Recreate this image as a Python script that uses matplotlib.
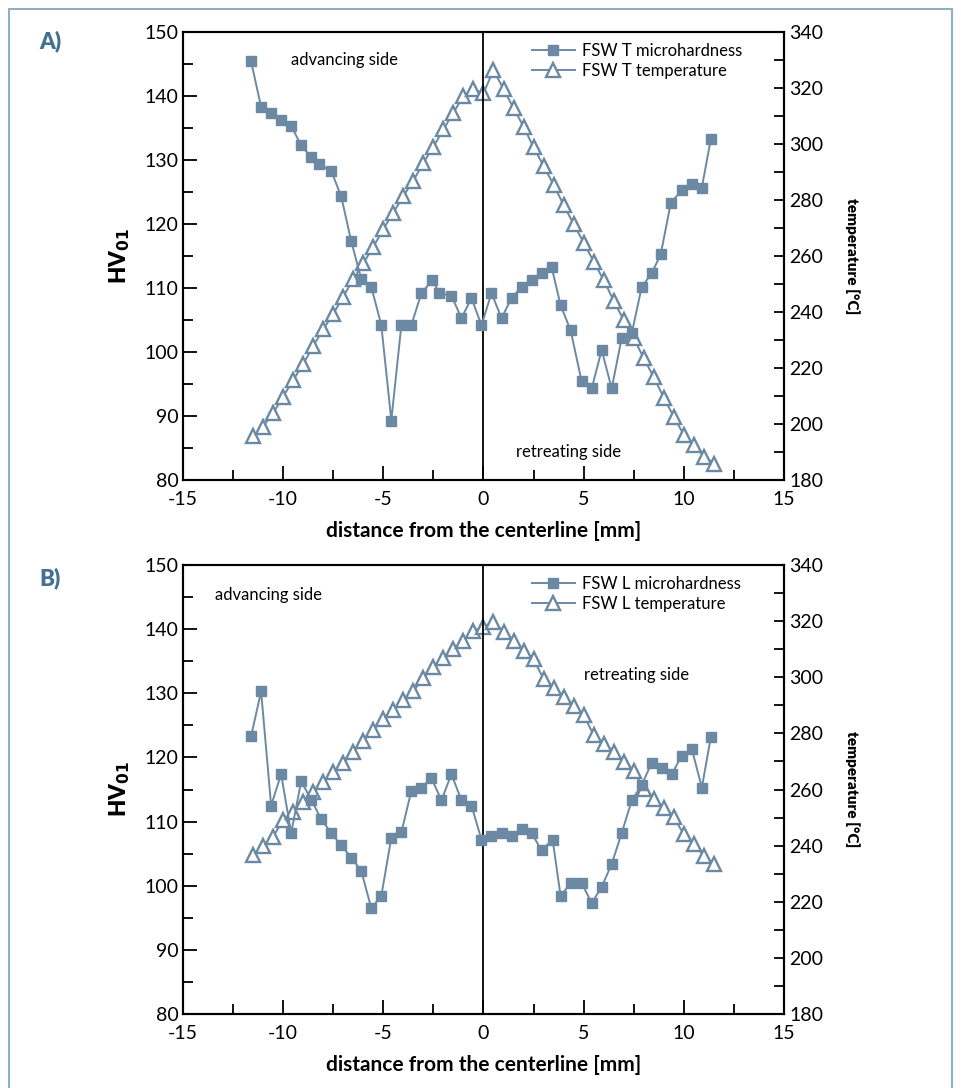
import matplotlib
matplotlib.use('Agg')
import matplotlib.pyplot as plt
from matplotlib.ticker import MultipleLocator
from matplotlib.patches import Rectangle

plt.rcParams['axes.unicode_minus'] = False
plt.rcParams['font.family'] = ['Lato', 'DejaVu Sans']

# data
# A) transverse (T)
a_x_hv = [-11.6, -11.1, -10.6, -10.1, -9.6, -9.1, -8.6, -8.2, -7.6, -7.1,
          -6.6, -6.1, -5.6, -5.1, -4.6, -4.1, -3.6, -3.1, -2.55, -2.2,
          -1.6, -1.1, -0.6, -0.1, 0.4, 0.9, 1.4, 1.9, 2.4, 2.9,
          3.4, 3.85, 4.35, 4.9, 5.4, 5.9, 6.4, 6.9, 7.4, 7.9,
          8.4, 8.85, 9.35, 9.9, 10.4, 10.9, 11.35]
a_hv = [145.4, 138.3, 137.4, 136.3, 135.3, 132.3, 130.4, 129.3, 128.3, 124.3,
        117.3, 111.4, 110.2, 104.2, 89.3, 104.2, 104.2, 109.2, 111.2, 109.2,
        108.8, 105.3, 108.4, 104.2, 109.2, 105.3, 108.4, 110.2, 111.2, 112.3,
        113.3, 107.3, 103.4, 95.4, 94.3, 100.3, 94.3, 102.2, 102.9, 110.2,
        112.3, 115.3, 123.3, 125.3, 126.3, 125.7, 133.3]
x_temp = [-11.5, -11.0, -10.5, -10.0, -9.5, -9.0, -8.5, -8.0, -7.5, -7.0,
          -6.5, -6.0, -5.5, -5.0, -4.5, -4.0, -3.5, -3.0, -2.5, -2.0,
          -1.5, -1.0, -0.5, 0.0, 0.5, 1.0, 1.5, 2.0, 2.5, 3.0,
          3.5, 4.0, 4.5, 5.0, 5.5, 6.0, 6.5, 7.0, 7.5, 8.0,
          8.5, 9.0, 9.5, 10.0, 10.5, 11.0, 11.5]
a_temp = [195.7, 199.1, 203.9, 209.8, 215.7, 221.3, 227.9, 233.8, 239.3, 245.5,
          251.7, 257.4, 263.3, 269.6, 275.5, 281.4, 286.9, 293.3, 299.0, 305.2,
          311.2, 317.1, 319.5, 318.1, 326.4, 319.6, 312.8, 306.2, 298.8, 292.2,
          285.4, 278.2, 271.4, 264.8, 258.0, 251.4, 244.0, 237.1, 230.6, 223.5,
          216.7, 209.4, 202.6, 196.1, 192.5, 188.4, 185.8]

# B) longitudinal (L)
b_x_hv = [-11.6, -11.1, -10.6, -10.1, -9.6, -9.1, -8.6, -8.1, -7.6, -7.1,
          -6.6, -6.1, -5.6, -5.1, -4.6, -4.1, -3.6, -3.1, -2.6, -2.1,
          -1.6, -1.1, -0.6, -0.1, 0.4, 0.9, 1.4, 1.9, 2.4, 2.9,
          3.45, 3.85, 4.35, 4.9, 5.4, 5.9, 6.4, 6.9, 7.4, 7.9,
          8.4, 8.9, 9.4, 9.9, 10.4, 10.9, 11.35]
b_hv = [123.3, 130.3, 112.5, 117.4, 108.2, 116.3, 113.4, 110.4, 108.2, 106.3,
        104.4, 102.3, 96.5, 98.4, 107.5, 108.3, 114.8, 115.3, 116.8, 113.3,
        117.4, 113.3, 112.5, 107.2, 107.8, 108.2, 107.8, 108.8, 108.2, 105.5,
        107.2, 98.4, 100.4, 100.4, 97.3, 99.8, 103.4, 108.2, 113.3, 115.7,
        119.2, 118.3, 117.4, 120.3, 121.3, 115.3, 123.2]
b_temp = [236.7, 239.9, 243.2, 249.1, 251.9, 255.4, 259.2, 262.8, 266.4, 269.3,
          273.5, 277.3, 281.2, 285.1, 288.3, 291.9, 295.1, 299.6, 303.8, 306.7,
          310.1, 312.9, 316.5, 318.0, 319.8, 316.2, 312.9, 309.4, 306.4, 299.4,
          296.1, 293.1, 289.9, 286.5, 279.4, 276.1, 273.2, 269.9, 266.7, 260.2,
          256.6, 253.3, 250.1, 244.0, 240.6, 236.4, 233.5]

col = '#6b89a2'
lab_col = '#44718f'


def draw_panel(rect, x_hv, hv, x_t, temp, tag, adv_pos, ret_pos):
    ax = fig.add_axes(rect)
    ax2 = ax.twinx()
    # hardness - filled squares
    l1, = ax.plot(x_hv, hv, color=col, lw=1.4, marker='s', ms=7.5,
                  mfc=col, mec=col, label=f'FSW {tag} microhardness', zorder=3)
    # temperature - open triangles
    l2, = ax2.plot(x_t, temp, color=col, lw=1.4, marker='^', ms=10.5,
                   mfc='white', mec=col, mew=1.7, label=f'FSW {tag} temperature')
    ax.set_zorder(ax2.get_zorder() + 1)
    ax.patch.set_visible(False)

    ax.axvline(0, color='black', lw=1.3, zorder=1)
    ax.set_xlim(-15, 15)
    ax.set_ylim(80, 150)
    ax2.set_ylim(180, 340)
    ax.xaxis.set_major_locator(MultipleLocator(5))
    ax.xaxis.set_minor_locator(MultipleLocator(2.5))
    ax.yaxis.set_major_locator(MultipleLocator(10))
    ax.yaxis.set_minor_locator(MultipleLocator(5))
    ax2.yaxis.set_major_locator(MultipleLocator(20))
    ax2.yaxis.set_minor_locator(MultipleLocator(10))
    ax.tick_params(axis='both', which='major', direction='in', length=10,
                   width=1.3, labelsize=14, top=False, right=False)
    ax.tick_params(axis='y', which='major', pad=3)
    ax.tick_params(axis='x', which='major', pad=8)
    ax.tick_params(axis='both', which='minor', direction='in', length=7,
                   width=1.3, top=False, right=False)
    ax2.tick_params(axis='y', which='both', direction='in', length=7,
                    width=1.3, labelsize=14, pad=4)
    for a in (ax, ax2):
        for s in a.spines.values():
            s.set_linewidth(1.5)

    ax.set_xlabel('distance from the centerline [mm]', fontsize=15,
                  fontweight='bold', labelpad=9)
    ax.set_ylabel(r'HV$_{\mathbf{01}}$', fontsize=16, fontweight='heavy', labelpad=9)
    ax2.set_ylabel('temperature [°C]', fontsize=11, fontweight='heavy',
                   rotation=270, labelpad=26)

    ax.text(adv_pos[0], adv_pos[1], 'advancing side', fontsize=12, va='center')
    ax.text(ret_pos[0], ret_pos[1], 'retreating side', fontsize=12, va='center')

    ax.legend(handles=[l1, l2], loc='upper left', bbox_to_anchor=(0.555, 1.01),
              frameon=False, handlelength=2.6, handletextpad=0.4,
              labelspacing=0.25, prop={'size': 12})
    return ax


fig = plt.figure(figsize=(9.61, 10.88), dpi=100)

# light frame round the whole figure
fig.patches.append(Rectangle((9 / 961, -0.01), 943 / 961, 1 - 9 / 1088 + 0.01,
                             transform=fig.transFigure, fill=False,
                             edgecolor='#8fb0c2', lw=1.5))

draw_panel([0.1904, 0.5588, 0.6254, 0.4118], a_x_hv, a_hv, x_temp, a_temp, 'T',
           (-9.6, 145.6), (1.6, 84.4))
draw_panel([0.1904, 0.0680, 0.6254, 0.4127], b_x_hv, b_hv, x_temp, b_temp, 'L',
           (-13.4, 145.3), (5.0, 132.8))

fig.text(39 / 961, 1 - 41 / 1088, 'A)', fontsize=16, fontweight='heavy',
         color=lab_col, va='center')
fig.text(39 / 961, 1 - 578 / 1088, 'B)', fontsize=16, fontweight='heavy',
         color=lab_col, va='center')

fig.savefig('out.png', dpi=100)
